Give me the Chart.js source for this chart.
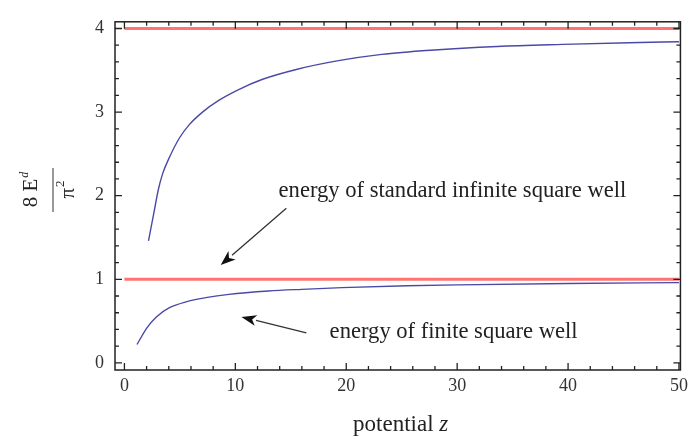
<!DOCTYPE html>
<html>
<head>
<meta charset="utf-8">
<script src="https://cdn.jsdelivr.net/npm/chart.js@4.4.0/dist/chart.umd.min.js"></script>
<style>
  html, body { margin: 0; padding: 0; background: #fff; }
  #wrap { width: 693px; height: 439px; position: relative; }
</style>
</head>
<body>
<div id="wrap"><canvas id="chart"></canvas></div>
<script>
// values
const zUpper = [2.17, 2.62, 3.07, 3.46, 4.06, 4.96, 5.85, 7.04, 8.5, 10.3, 12.4, 15.5, 19.3, 23.2, 27.6, 33.6, 39.5, 45.5, 50];
const eUpper = [1.46, 1.77, 2.08, 2.27, 2.46, 2.69, 2.85, 3.00, 3.14, 3.27, 3.39, 3.51, 3.615, 3.69, 3.74, 3.785, 3.81, 3.83, 3.842];
const zLower = [1.13, 2.03, 2.88, 4.06, 5.55, 7.34, 9.42, 13, 16, 19.6, 25.5, 30, 40, 50];
const eLower = [0.22, 0.42, 0.55, 0.66, 0.73, 0.78, 0.82, 0.86, 0.88, 0.90, 0.922, 0.933, 0.95, 0.96];
const zRef = [0, 50];
const refGround = [1, 1];
const refSecond = [4, 4];
const xTicks = [0, 10, 20, 30, 40, 50];
const yTicks = [0, 1, 2, 3, 4];

const serif = '"Liberation Serif", "DejaVu Serif", serif';
const toPts = (xs, ys) => xs.map((v, i) => ({ x: v, y: ys[i] }));

// inward frame ticks, annotations and axis titles
const decor = {
  id: 'decor',
  afterDatasetsDraw(chart) {
    const { ctx, chartArea: a, scales: { x, y } } = chart;
    ctx.save();
    ctx.strokeStyle = '#222';
    ctx.lineWidth = 1.5;
    ctx.strokeRect(a.left, a.top, a.right - a.left, a.bottom - a.top);
    ctx.lineWidth = 1.3;
    ctx.beginPath();
    for (let v = 0; v <= 50; v += 2) {
      const px = x.getPixelForValue(v);
      const len = v % 10 === 0 ? 7 : 4;
      ctx.moveTo(px, a.bottom); ctx.lineTo(px, a.bottom - len);
      ctx.moveTo(px, a.top); ctx.lineTo(px, a.top + len);
    }
    for (let i = 0; i <= 20; i++) {
      const py = y.getPixelForValue(i / 5);
      const len = i % 5 === 0 ? 7 : 4;
      ctx.moveTo(a.left, py); ctx.lineTo(a.left + len, py);
      ctx.moveTo(a.right, py); ctx.lineTo(a.right - len, py);
    }
    ctx.stroke();

    // annotations
    ctx.fillStyle = '#222';
    ctx.font = '22.6px ' + serif;
    ctx.textBaseline = 'alphabetic';
    ctx.fillText('energy of standard infinite square well', x.getPixelForValue(13.9), y.getPixelForValue(1.98));
    ctx.fillText('energy of finite square well', x.getPixelForValue(18.5), y.getPixelForValue(0.30));
    arrow(ctx, x.getPixelForValue(14.6), y.getPixelForValue(1.85), x.getPixelForValue(8.68), y.getPixelForValue(1.17));
    arrow(ctx, x.getPixelForValue(16.4), y.getPixelForValue(0.36), x.getPixelForValue(10.55), y.getPixelForValue(0.55));

    // x title
    const t1 = 'potential ';
    ctx.font = '23px ' + serif;
    const w1 = ctx.measureText(t1).width;
    ctx.font = 'italic 23px ' + serif;
    const w2 = ctx.measureText('z').width;
    const sx = (a.left + a.right) / 2 + 3 - (w1 + w2) / 2;
    ctx.font = '23px ' + serif;
    ctx.fillText(t1, sx, 431);
    ctx.font = 'italic 23px ' + serif;
    ctx.fillText('z', sx + w1, 431);

    // y title: fraction 8 E^d / pi^2, rotated
    ctx.translate(53, 190);
    ctx.rotate(-Math.PI / 2);
    ctx.strokeStyle = '#999';
    ctx.lineWidth = 2;
    ctx.beginPath(); ctx.moveTo(-22, 0); ctx.lineTo(22, 0); ctx.stroke();
    ctx.fillStyle = '#222';
    ctx.font = '21px ' + serif;
    const n1 = '8 E';
    const nw = ctx.measureText(n1).width;
    ctx.font = 'italic 12px ' + serif;
    const dw = ctx.measureText('d').width;
    let nx = -(nw + dw) / 2;
    ctx.font = '21px ' + serif;
    ctx.fillText(n1, nx, -16);
    ctx.font = 'italic 12px ' + serif;
    ctx.fillText('d', nx + nw + 1, -25);
    ctx.font = '21px ' + serif;
    const pw = ctx.measureText('π').width;
    ctx.font = '13px ' + serif;
    const sw = ctx.measureText('2').width;
    nx = -(pw + sw) / 2;
    ctx.font = '21px ' + serif;
    ctx.fillText('π', nx, 21);
    ctx.font = '13px ' + serif;
    ctx.fillText('2', nx + pw + 1, 11);
    ctx.restore();
  }
};

function arrow(ctx, x0, y0, x1, y1) {
  const ang = Math.atan2(y1 - y0, x1 - x0);
  const hl = 15, hw = 5.5;
  const bx = x1 - hl * Math.cos(ang), by = y1 - hl * Math.sin(ang);
  ctx.save();
  ctx.strokeStyle = '#333';
  ctx.lineWidth = 1.3;
  ctx.beginPath(); ctx.moveTo(x0, y0); ctx.lineTo(bx, by); ctx.stroke();
  ctx.fillStyle = '#111';
  ctx.beginPath();
  ctx.moveTo(x1, y1);
  ctx.lineTo(bx + hw * Math.sin(ang), by - hw * Math.cos(ang));
  ctx.lineTo(x1 - (hl - 4) * Math.cos(ang), y1 - (hl - 4) * Math.sin(ang));
  ctx.lineTo(bx - hw * Math.sin(ang), by + hw * Math.cos(ang));
  ctx.closePath();
  ctx.fill();
  ctx.restore();
}

const redLine = { borderColor: 'rgba(255,100,100,0.9)', borderWidth: 3, pointRadius: 0, showLine: true };
const blueLine = { borderColor: '#4a4aa6', borderWidth: 1.4, pointRadius: 0, showLine: true, cubicInterpolationMode: 'monotone' };

new Chart(document.getElementById('chart'), {
  type: 'scatter',
  data: {
    datasets: [
      { ...redLine, data: toPts(zRef, refSecond) },
      { ...redLine, data: toPts(zRef, refGround) },
      { ...blueLine, data: toPts(zUpper, eUpper) },
      { ...blueLine, data: toPts(zLower, eLower) },
    ]
  },
  options: {
    responsive: true,
    maintainAspectRatio: false,
    animation: false,
    layout: { padding: { left: 0, right: 7, top: 10, bottom: 0 } },
    plugins: { legend: { display: false }, tooltip: { enabled: false } },
    scales: {
      x: {
        type: 'linear', min: -0.85, max: 50.13,
        grid: { display: false, drawTicks: false },
        border: { display: false },
        afterBuildTicks: s => { s.ticks = xTicks.map(v => ({ value: v })); },
        afterFit: s => { s.height = 69; },
        ticks: { padding: 5, color: '#333', font: { family: serif, size: 18 }, maxRotation: 0 },
      },
      y: {
        type: 'linear', min: -0.085, max: 4.08,
        grid: { display: false, drawTicks: false },
        border: { display: false },
        afterBuildTicks: s => { s.ticks = yTicks.map(v => ({ value: v })); },
        afterFit: s => { s.width = 115; },
        ticks: { padding: 11, color: '#333', font: { family: serif, size: 18 } },
      }
    }
  },
  plugins: [decor]
});
</script>
</body>
</html>
